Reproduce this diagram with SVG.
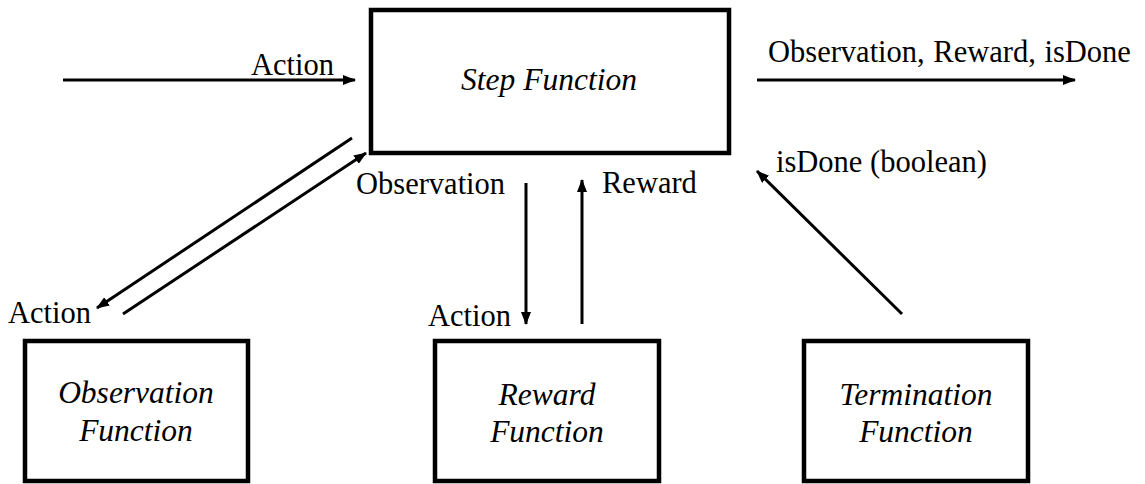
<svg xmlns="http://www.w3.org/2000/svg" width="1145" height="484" viewBox="0 0 1145 484">
<defs>
<marker id="ah" markerUnits="userSpaceOnUse" markerWidth="13" markerHeight="10" refX="12" refY="5" orient="auto">
<path d="M0,0 L13,5 L0,10 z" fill="#000"/>
</marker>
<style>
.box{fill:#fff;stroke:#000;stroke-width:4.5}
.lbl{font-size:30.5px;fill:#000}
.it{font-size:31.5px;font-style:italic;fill:#000;text-anchor:middle}
.ln{stroke:#000;stroke-width:3;fill:none;marker-end:url(#ah)}
</style>
</defs>
<rect width="1145" height="484" fill="#fff"/>
<g font-family="'Liberation Serif', 'Times New Roman', Times, serif">
<g id="step">
<rect class="box" x="371" y="10" width="358" height="143"/>
<text class="it" x="549" y="90">Step Function</text>
</g>
<g id="observation">
<rect class="box" x="25" y="341" width="223" height="140"/>
<text class="it" x="136" y="403">Observation</text>
<text class="it" x="136" y="441">Function</text>
</g>
<g id="reward">
<rect class="box" x="435" y="341" width="224" height="140"/>
<text class="it" x="547" y="405">Reward</text>
<text class="it" x="547" y="442">Function</text>
</g>
<g id="termination">
<rect class="box" x="804" y="341" width="224" height="140"/>
<text class="it" x="916" y="405">Termination</text>
<text class="it" x="916" y="442">Function</text>
</g>
<g id="connectors">
<line class="ln" x1="63" y1="80" x2="355" y2="80"/>
<line class="ln" x1="757" y1="80" x2="1075" y2="80"/>
<line class="ln" x1="352" y1="138" x2="97" y2="308"/>
<line class="ln" x1="123" y1="314" x2="366" y2="153"/>
<line class="ln" x1="526" y1="183" x2="526" y2="324"/>
<line class="ln" x1="582" y1="324" x2="582" y2="180"/>
<line class="ln" x1="902" y1="314" x2="757" y2="171"/>
</g>
<g id="labels">
<text class="lbl" x="251" y="75">Action</text>
<text class="lbl" x="768" y="62" word-spacing="1">Observation, Reward, isDone</text>
<text class="lbl" x="776" y="172">isDone (boolean)</text>
<text class="lbl" x="356" y="194">Observation</text>
<text class="lbl" x="602" y="193">Reward</text>
<text class="lbl" x="428" y="326">Action</text>
<text class="lbl" x="8" y="323">Action</text>
</g>
</g>
</svg>
